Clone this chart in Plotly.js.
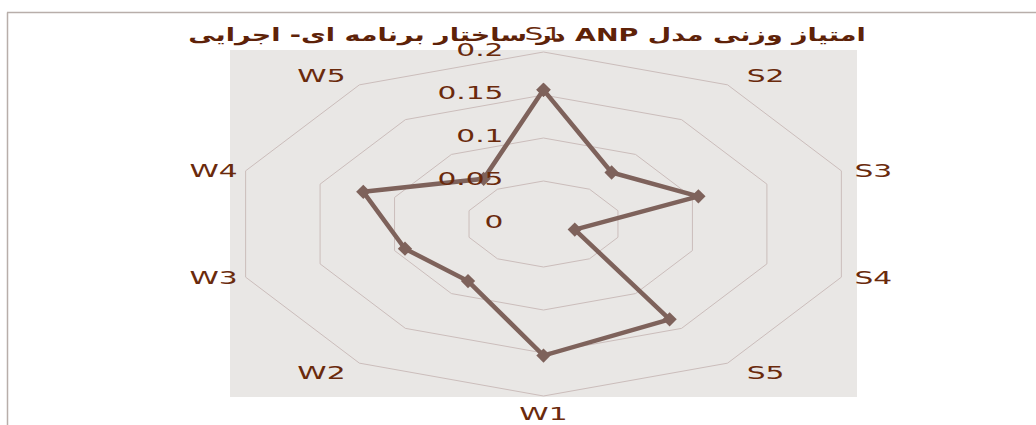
<!DOCTYPE html>
<html><head><meta charset="utf-8">
<script src="https://cdn.plot.ly/plotly-3.0.1.min.js"></script>
<style>
html,body{margin:0;padding:0;background:#fff}
#chart{width:1036px;height:425px}
#chart .textpoint text{transform-box:fill-box;transform-origin:50% 50%;transform:scaleX(1.65)}
#chart .ticklab .textpoint text{transform-origin:100% 50%}
#chart .gtitle{transform-box:fill-box;transform-origin:50% 50%;transform:scaleX(1.5)}
</style>
</head><body><div id="chart"></div>
<script>
const categories = ['S1','S2','S3','S4','S5','W1','W2','W3','W4','W5'];
const weights = [0.156, 0.074, 0.104, 0.021, 0.137, 0.153, 0.082, 0.093, 0.121, 0.065];
const radialTicks = [0, 0.05, 0.1, 0.15, 0.2];
const radialTickLabels = ['0', '0.05', '0.1', '0.15', '0.2'];
const chartTitle = 'امتیاز وزنی مدل ANP در ساختار برنامه ای- اجرایی';

const W = 1036, H = 425;
const xRange = [-0.34706, 0.31450], yRange = [-0.23372, 0.26047];
const pxPerX = W / (xRange[1] - xRange[0]);
const pxPerY = H / (yRange[1] - yRange[0]);

const N = categories.length;
const ang = categories.map((c, i) => i * 2 * Math.PI / N);
const toX = (r, a) => r * Math.sin(a);
const toY = (r, a) => r * Math.cos(a);
const rMax = Math.max(...radialTicks);
const textColor = '#6a2a0c';

const traces = [];
radialTicks.filter(t => t > 0).forEach(t => {
  const xs = [], ys = [];
  for (let i = 0; i <= N; i++) { xs.push(toX(t, ang[i % N])); ys.push(toY(t, ang[i % N])); }
  traces.push({type: 'scatter', mode: 'lines', x: xs, y: ys,
    line: {color: '#cbbdbb', width: 1}, hoverinfo: 'skip', showlegend: false});
});

const px = weights.map((w, i) => toX(w, ang[i]));
const py = weights.map((w, i) => toY(w, ang[i]));
px.push(px[0]); py.push(py[0]);
traces.push({type: 'scatter', mode: 'lines+markers', x: px, y: py,
  text: categories.concat([categories[0]]),
  line: {color: '#7e625b', width: 4.5},
  marker: {symbol: 'diamond', size: 11, color: '#7e625b'},
  showlegend: false, hovertemplate: '%{text}<extra></extra>'});

// radial tick labels (right edge of glyphs ~40px left of the centre axis)
traces.push({type: 'scatter', mode: 'text', uid: 'ticklab',
  x: radialTicks.map(() => -40 / pxPerX), y: radialTicks,
  text: radialTickLabels, textposition: 'middle left',
  textfont: {family: 'DejaVu Sans', size: 18, color: textColor},
  hoverinfo: 'skip', showlegend: false});

// category labels, placed just outside the outer ring
const labX = ang.map(a => {
  const s = Math.sin(a);
  const off = Math.abs(s) < 0.1 ? 0 : Math.sign(s) * (Math.abs(s) > 0.8 ? 32 : 38);
  return toX(rMax, a) + off / pxPerX;
});
const labY = ang.map(a => {
  const c = Math.cos(a);
  return toY(rMax, a) + (18 * c * c * c - 2) / pxPerY;
});
traces.push({type: 'scatter', mode: 'text', x: labX, y: labY,
  text: categories, textposition: 'middle center',
  textfont: {family: 'DejaVu Sans', size: 18, color: textColor},
  hoverinfo: 'skip', showlegend: false});

const layout = {
  width: W, height: H,
  margin: {l: 0, r: 0, t: 0, b: 0},
  paper_bgcolor: '#ffffff', plot_bgcolor: 'rgba(0,0,0,0)',
  xaxis: {range: xRange, visible: false, fixedrange: true},
  yaxis: {range: yRange, visible: false, fixedrange: true},
  title: {text: '\u202B' + chartTitle + '\u202C', x: 527 / W, y: 1 - 35 / H,
    xanchor: 'center', yanchor: 'middle',
    font: {family: 'DejaVu Sans', size: 18, color: '#5e2208', weight: 'bold'}},
  shapes: [
    {type: 'rect', xref: 'paper', yref: 'paper', x0: 230 / W, x1: 857 / W, y0: 1 - 397 / H, y1: 1 - 50 / H,
      fillcolor: '#e9e7e5', line: {width: 0}, layer: 'below'},
    {type: 'line', xref: 'paper', yref: 'paper', x0: 7 / W, x1: 1, y0: 1 - 12.5 / H, y1: 1 - 12.5 / H,
      line: {color: '#b8aeaa', width: 1.5}},
    {type: 'line', xref: 'paper', yref: 'paper', x0: 7.5 / W, x1: 7.5 / W, y0: 0, y1: 1 - 12.5 / H,
      line: {color: '#b8aeaa', width: 1.5}}
  ],
  showlegend: false
};
Plotly.newPlot('chart', traces, layout, {displayModeBar: false, staticPlot: true}).then(gd => {
  // tag the tick-label trace group so its texts stretch from their right edge
  const groups = gd.querySelectorAll('.scatterlayer .trace');
  const idx = traces.findIndex(t => t.uid === 'ticklab');
  if (groups[idx]) groups[idx].classList.add('ticklab');
});
</script></body></html>
